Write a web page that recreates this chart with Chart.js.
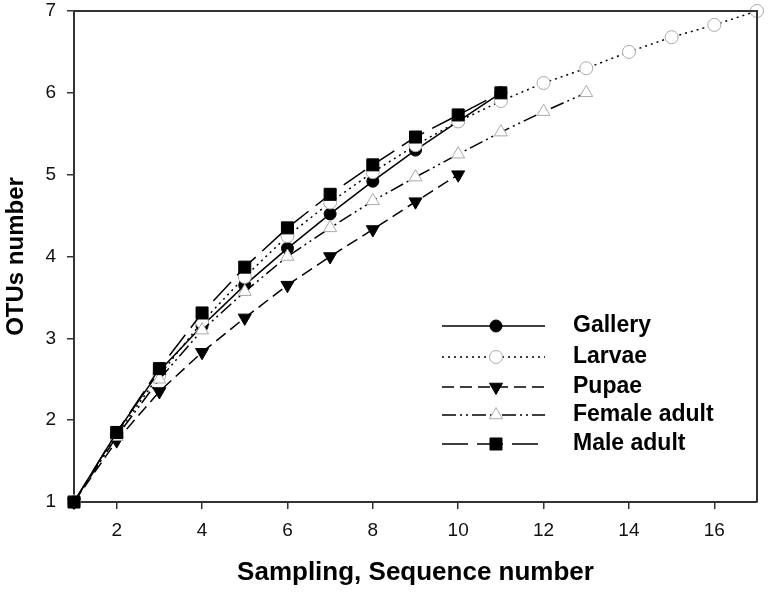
<!DOCTYPE html>
<html><head><meta charset="utf-8">
<script src="https://cdn.jsdelivr.net/npm/chart.js@4"></script>
<style>html,body{margin:0;padding:0;background:#fff}#wrap{width:768px;height:594px}</style>
</head><body><div id="wrap"><canvas id="c"></canvas></div>
<script>
const sampling = [1,2,3,4,5,6,7,8,9,10,11,12,13,14,15,16,17];
const galleryValues = [1,1.85,2.6,3.15,3.65,4.1,4.52,4.92,5.3,5.65,6.0];
const larvaeValues = [1,1.83,2.55,3.2,3.75,4.25,4.66,5.03,5.36,5.65,5.9,6.12,6.3,6.5,6.68,6.83,7.0];
const pupaeValues = [1,1.75,2.35,2.83,3.25,3.65,4.0,4.33,4.67,5.0];
const femaleValues = [1,1.8,2.5,3.1,3.57,4.0,4.35,4.68,4.97,5.25,5.52,5.77,6.0];
const maleValues = [1,1.85,2.63,3.31,3.87,4.35,4.76,5.12,5.46,5.73,6.0];
const seriesNames = ['Gallery','Larvae','Pupae','Female adult','Male adult'];
const xTickValues = [2,4,6,8,10,12,14,16];
const yTickValues = [1,2,3,4,5,6,7];

function pts(vals){ return vals.map((v,i)=>({x:sampling[i], y:v})); }

const FONT = '"Liberation Sans", Arial, sans-serif';
const styles = [
  {dash:[], point:'circle', r:6, fill:'#000', stroke:'#000'},
  {dash:[2,4], point:'circle', r:6.5, fill:'#fff', stroke:'#aaa'},
  {dash:[12,6], point:'triangle', r:7.5, fill:'#000', stroke:'#000', rot:180},
  {dash:[14,4,2,4,2,4], point:'triangle', r:7.5, fill:'#fff', stroke:'#aaa', rot:0},
  {dash:[26,9], point:'rect', r:8.5, fill:'#000', stroke:'#000'}
];
const allVals = [galleryValues, larvaeValues, pupaeValues, femaleValues, maleValues];

const datasets = allVals.map((vals,i)=>({
  label: seriesNames[i],
  data: pts(vals),
  borderColor:'#000',
  borderWidth:1.5,
  borderDash: styles[i].dash,
  pointStyle: styles[i].point,
  pointRadius: styles[i].r,
  pointRotation: styles[i].rot||0,
  pointBackgroundColor: styles[i].fill,
  pointBorderColor: styles[i].stroke,
  pointBorderWidth: 1,
  tension: 0,
  clip: false,
  order: 5-i
}));

const boxPlugin = {
  id:'box',
  afterDatasetsDraw(chart){
    const {ctx, chartArea:a} = chart;
    ctx.save();
    ctx.strokeStyle='#333'; ctx.lineWidth=2;
    ctx.beginPath();
    ctx.moveTo(a.left, a.top); ctx.lineTo(a.right, a.top); ctx.lineTo(a.right, a.bottom);
    ctx.stroke();
    // legend
    const x0 = 442, x1 = 545, xm = 496, tx = 573;
    const rows = [326, 357, 387, 415, 444];
    datasets.forEach((d,i)=>{
      const y = rows[i];
      ctx.save();
      ctx.strokeStyle='#000'; ctx.lineWidth=1.5;
      ctx.setLineDash(d.borderDash.length? d.borderDash: []);
      ctx.beginPath(); ctx.moveTo(x0,y); ctx.lineTo(x1,y); ctx.stroke();
      ctx.restore();
      ctx.save();
      ctx.fillStyle = d.pointBackgroundColor; ctx.strokeStyle = d.pointBorderColor; ctx.lineWidth=1;
      Chart.helpers.drawPoint(ctx, {pointStyle:d.pointStyle, radius:d.pointRadius, rotation:d.pointRotation, borderWidth:1}, xm, y);
      ctx.restore();
      ctx.fillStyle='#000';
      ctx.font='bold 23px ' + FONT;
      ctx.textBaseline='middle'; ctx.textAlign='left';
      ctx.fillText(d.label, tx, y);
    });
    ctx.restore();
  }
};

new Chart(document.getElementById('c'), {
  type:'line',
  data:{datasets},
  plugins:[boxPlugin],
  options:{
    responsive:true, maintainAspectRatio:false, animation:false,
    layout:{padding:{top:11, right:11, left:0, bottom:0}},
    plugins:{legend:{display:false}, tooltip:{enabled:false}},
    scales:{
      x:{
        type:'linear', min:1, max:17,
        afterBuildTicks(s){ s.ticks = xTickValues.map(v=>({value:v})); },
        afterFit(s){ s.height = 92; s.paddingLeft = 0; s.paddingRight = 0; },
        border:{color:'#333', width:2},
        grid:{drawOnChartArea:false, tickLength:7, color:'#333', lineWidth:1.5},
        ticks:{color:'#111', font:{family:FONT, size:19}, padding:10, maxRotation:0},
        title:{display:true, text:'Sampling, Sequence number', color:'#000', font:{family:FONT, size:26, weight:'bold'}, padding:{top:6, bottom:6}}
      },
      y:{
        type:'linear', min:1, max:7,
        afterBuildTicks(s){ s.ticks = yTickValues.map(v=>({value:v})); },
        afterFit(s){ s.width = 74; s.paddingTop = 0; s.paddingBottom = 0; },
        border:{color:'#333', width:2},
        grid:{drawOnChartArea:false, tickLength:7, color:'#333', lineWidth:1.5},
        ticks:{color:'#111', font:{family:FONT, size:19}, padding:11},
        title:{display:true, text:'OTUs number', color:'#000', font:{family:FONT, size:24, weight:'bold'}, padding:{top:2, bottom:2}}
      }
    }
  }
});
</script></body></html>
